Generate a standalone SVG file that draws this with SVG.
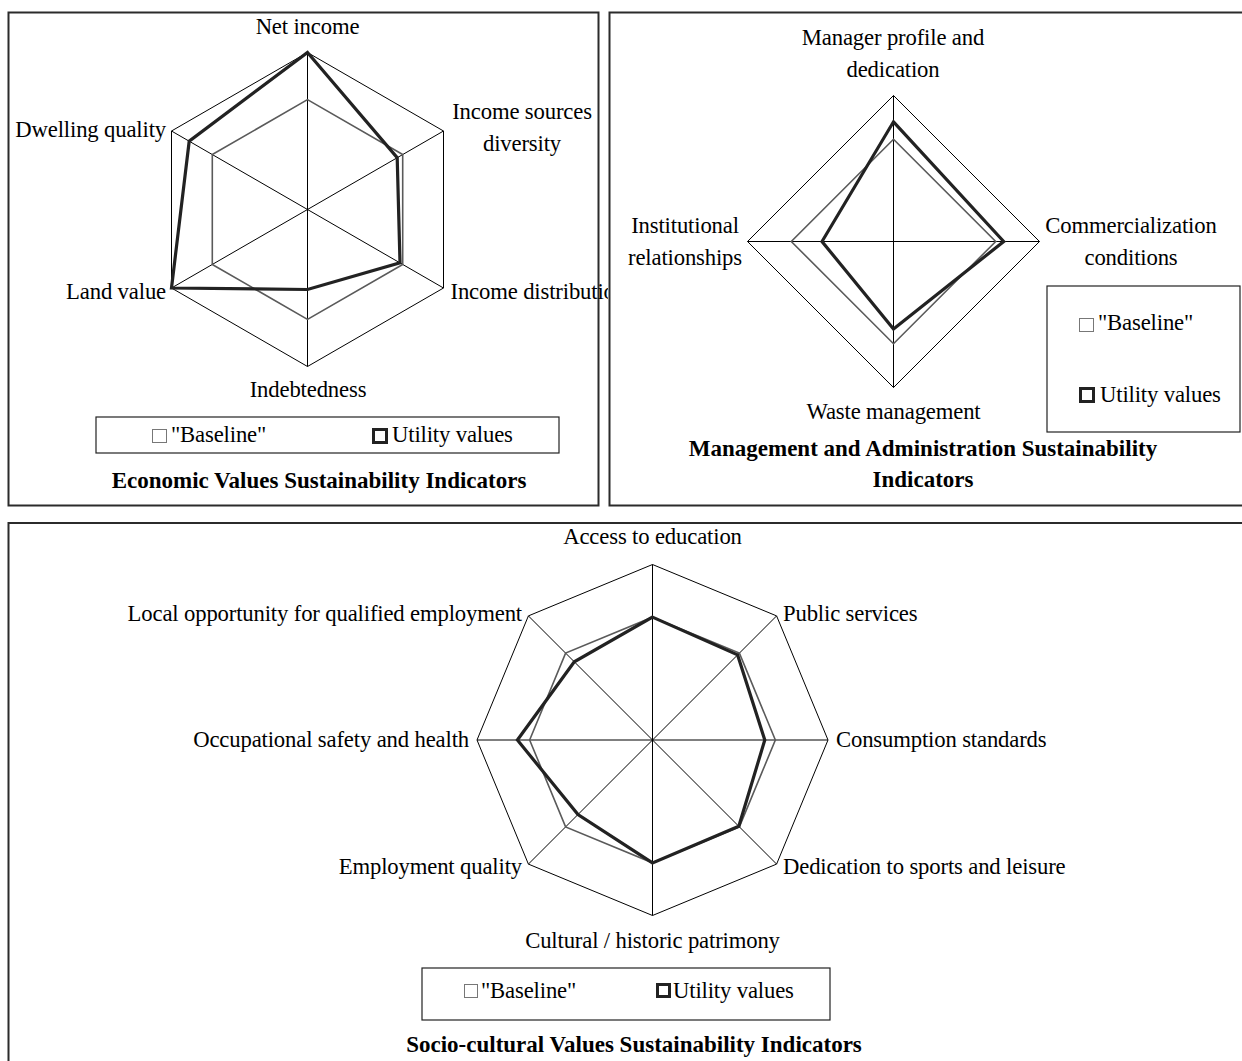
<svg xmlns="http://www.w3.org/2000/svg" width="1242" height="1061" viewBox="0 0 1242 1061">
  <style>
    .panel { fill: #fff; stroke: #2b2b2b; stroke-width: 2; }
    .grid { fill: none; stroke: #000; stroke-width: 1; }
    .base { fill: none; stroke: #5a5a5a; stroke-width: 1.6; stroke-linejoin: miter; }
    .util { fill: none; stroke: #222; stroke-width: 3.2; stroke-linejoin: miter; }
    .legbox { fill: #fff; stroke: #222; stroke-width: 1.2; }
    .swb { fill: #fff; stroke: #777; stroke-width: 1; }
    .swu { fill: #fff; stroke: #222; stroke-width: 3; }
    text { font-family: "Liberation Serif", "Times New Roman", serif; font-size: 22.7px; fill: #000; letter-spacing: -0.15px; }
    .title { font-weight: bold; font-size: 23px; letter-spacing: 0; }
    .mid { text-anchor: middle; }
    .end { text-anchor: end; }
  </style>
  <defs>
    <clipPath id="clipEcon">
      <rect x="0" y="0" width="608" height="520"/>
    </clipPath>
  </defs>

  <rect width="1242" height="1061" fill="#fff"/>

  <!-- Panel frames -->
  <g id="frames">
    <rect class="panel" x="8.5" y="12.5" width="590" height="493"/>
    <rect class="panel" x="609.5" y="12.5" width="660" height="493"/>
    <rect class="panel" x="8.5" y="523" width="1260" height="600"/>
  </g>

  <!-- Economic values radar (hexagon) -->
  <g id="economic">
    <g id="economic-grid">
      <polygon class="grid" points="307.5,52.5 443.5,131 443.5,288 307.5,366.5 171.5,288 171.5,131"/>
      <line class="grid" x1="307.5" y1="52.5" x2="307.5" y2="366.5"/>
      <line class="grid" x1="443.5" y1="131" x2="171.5" y2="288"/>
      <line class="grid" x1="443.5" y1="288" x2="171.5" y2="131"/>
    </g>
    <polygon class="base" points="307.5,99.6 402.7,154.55 402.7,264.45 307.5,319.4 212.3,264.45 212.3,154.55"/>
    <polygon class="util" points="307.5,52.5 397.2,157.7 400,262.9 307.5,289.5 171.5,288 189.2,141.2"/>
    <text class="mid" x="307.5" y="34">Net income</text>
    <text class="mid" x="522" y="119">Income sources</text>
    <text class="mid" x="522" y="151">diversity</text>
    <text x="450.5" y="299" clip-path="url(#clipEcon)">Income distribution</text>
    <text class="mid" x="308" y="397">Indebtedness</text>
    <text class="end" x="166" y="299">Land value</text>
    <text class="end" x="166" y="137">Dwelling quality</text>
    <g id="economic-legend">
      <rect class="legbox" x="96" y="417" width="463" height="36"/>
      <rect class="swb" x="152.5" y="429.5" width="14" height="13"/>
      <text x="171" y="442">"Baseline"</text>
      <rect class="swu" x="373.5" y="429.5" width="13" height="13"/>
      <text x="392" y="442">Utility values</text>
    </g>
    <text class="title mid" x="319" y="488">Economic Values Sustainability Indicators</text>
  </g>

  <!-- Management and administration radar (diamond) -->
  <g id="management">
    <g id="management-grid">
      <polygon class="grid" points="893.5,95.5 1039.5,241.5 893.5,387.5 747.5,241.5"/>
      <line class="grid" x1="893.5" y1="95.5" x2="893.5" y2="387.5"/>
      <line class="grid" x1="747.5" y1="241.5" x2="1039.5" y2="241.5"/>
    </g>
    <polygon class="base" points="893.5,139.3 995.7,241.5 893.5,343.7 791.3,241.5"/>
    <polygon class="util" points="893.5,121.8 1003.7,241.5 893.5,329.1 822,241.5"/>
    <text class="mid" x="893" y="45">Manager profile and</text>
    <text class="mid" x="893" y="77">dedication</text>
    <text class="mid" x="685" y="233">Institutional</text>
    <text class="mid" x="685" y="265">relationships</text>
    <text class="mid" x="1131" y="233">Commercialization</text>
    <text class="mid" x="1131" y="265">conditions</text>
    <text class="mid" x="893.5" y="419">Waste management</text>
    <g id="management-legend">
      <rect class="legbox" x="1047" y="286" width="193" height="146"/>
      <rect class="swb" x="1079.5" y="318.5" width="14" height="13"/>
      <text x="1098" y="330">"Baseline"</text>
      <rect class="swu" x="1080.5" y="388.5" width="13" height="13"/>
      <text x="1100" y="402">Utility values</text>
    </g>
    <text class="title mid" x="923" y="456">Management and Administration Sustainability</text>
    <text class="title mid" x="923" y="487">Indicators</text>
  </g>

  <!-- Socio-cultural values radar (octagon) -->
  <g id="sociocultural">
    <g id="sociocultural-grid">
      <polygon class="grid" points="652.5,564.5 776.6,615.9 828,740 776.6,864.1 652.5,915.5 528.4,864.1 477,740 528.4,615.9"/>
      <line class="grid" x1="652.5" y1="564.5" x2="652.5" y2="915.5"/>
      <line class="grid" x1="477" y1="740" x2="828" y2="740"/>
      <line class="grid" x1="528.4" y1="615.9" x2="776.6" y2="864.1"/>
      <line class="grid" x1="776.6" y1="615.9" x2="528.4" y2="864.1"/>
    </g>
    <polygon class="base" points="652.5,617.15 739.4,653.1 775.35,740 739.4,826.9 652.5,862.85 565.6,826.9 529.65,740 565.6,653.1"/>
    <polygon class="util" points="652.5,617.15 737.6,654.9 764.8,740 738.8,826.3 652.5,862.85 578,814.5 517.4,740 574.3,661.8"/>
    <text class="mid" x="652.5" y="544">Access to education</text>
    <text x="783" y="621">Public services</text>
    <text class="end" x="522" y="621">Local opportunity for qualified employment</text>
    <text x="836" y="747">Consumption standards</text>
    <text class="end" x="469" y="747">Occupational safety and health</text>
    <text x="783" y="874">Dedication to sports and leisure</text>
    <text class="end" x="522" y="874">Employment quality</text>
    <text class="mid" x="652.5" y="948">Cultural / historic patrimony</text>
    <g id="sociocultural-legend">
      <rect class="legbox" x="422" y="968" width="408" height="52"/>
      <rect class="swb" x="464.5" y="984.5" width="13" height="13"/>
      <text x="481" y="998">"Baseline"</text>
      <rect class="swu" x="657.5" y="984.5" width="12" height="12"/>
      <text x="673" y="998">Utility values</text>
    </g>
    <text class="title mid" x="634" y="1052">Socio-cultural Values Sustainability Indicators</text>
  </g>
</svg>
